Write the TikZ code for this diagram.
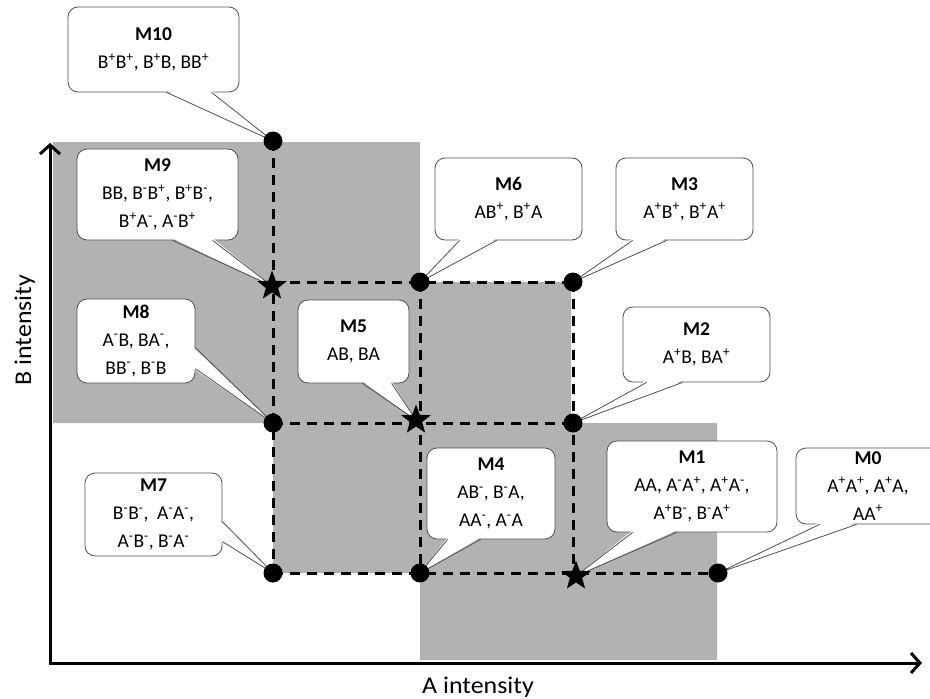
\documentclass[tikz,border=0pt]{standalone}
\usepackage{fontspec}
\setmainfont{Carlito}
\newfontfamily\boxfont{Carlito}
\newfontfamily\labfont{Carlito}[FakeStretch=1.08]
\usetikzlibrary{arrows.meta,shapes.geometric,calc}
\definecolor{regiongray}{RGB}{178,178,178}
\definecolor{outlinegray}{RGB}{80,80,80}
\newcommand{\pls}{\textsuperscript{+}}
\newcommand{\mns}{\textsuperscript{-}}
\newcommand{\wedgebottom}[4]{%
  \fill[white] ($(#1.south west)+(#2,-2)$) -- (#4) -- ($(#1.south west)+(#3,-2)$) -- cycle;
  \draw[callline] ($(#1.south west)+(#2,0)$) -- (#4) -- ($(#1.south west)+(#3,0)$);}
\newcommand{\wedgeright}[4]{%
  \fill[white] ($(#1.north east)+(-2,#2)$) -- (#4) -- ($(#1.north east)+(-2,#3)$) -- cycle;
  \draw[callline] ($(#1.north east)+(0,#2)$) -- (#4) -- ($(#1.north east)+(0,#3)$);}
\begin{document}
\begin{tikzpicture}[x=1pt,y=-1pt,
  region/.style={fill=regiongray},
  gridline/.style={line width=3pt,dash pattern=on 10pt off 7pt},
  axisline/.style={line width=3pt,line join=miter},
  callbox/.style={draw=outlinegray,line width=0.8pt,fill=white,rounded corners=10pt,inner sep=0pt,align=center,font=\boxfont\fontsize{19.5}{28}\selectfont},
  callline/.style={draw=outlinegray,line width=0.8pt},
  dotnode/.style={circle,fill=black,minimum size=19pt,inner sep=0pt},
  starnode/.style={star,star points=5,star point ratio=2.4,fill=black,minimum size=31pt,inner sep=0pt},
  axlabel/.style={font=\labfont\fontsize{24}{28}\selectfont,inner sep=0pt}]
\useasboundingbox (0,0) rectangle (930,699);
% grid coordinates
\coordinate (p10) at (273,141);
\coordinate (p9) at (273,282);
\coordinate (p8) at (273,423);
\coordinate (p7) at (273,573);
\coordinate (p6) at (420,282);
\coordinate (p5) at (420,423);
\coordinate (p4) at (420,573);
\coordinate (p3) at (573,282);
\coordinate (p2) at (573,423);
\coordinate (p1) at (573,573);
\coordinate (p0) at (718,573);
\coordinate (s9) at (272,286);
\coordinate (s5) at (416,420);
\coordinate (s1) at (576,576);
% gray regions
\fill[region] (53,142) -- (420,142) -- (420,282) -- (571,282) -- (571,423) -- (717,423)
  -- (717,660) -- (420,660) -- (420,573) -- (273,573) -- (273,423) -- (53,423) -- cycle;
% axes
\coordinate (origin) at (50,663);
\coordinate (yend) at (50,143);
\coordinate (xend) at (922,663);
\draw[axisline,{Straight Barb[length=9pt,width=20pt]}-{Straight Barb[length=9pt,width=20pt]}] (yend) -- (origin) -- (xend);
\node[axlabel,anchor=base] (xlab) at (478,693) {A intensity};
\node[axlabel,anchor=base,rotate=90] (ylab) at (31,330) {B intensity};
% dashed grid
\draw[gridline] (p10) -- (p7);
\draw[gridline] (p6) -- (p4);
\draw[gridline] (p3) -- (p1);
\draw[gridline] (p9) -- (p3);
\draw[gridline] (p8) -- (p2);
\draw[gridline] (p7) -- (p0);
% callouts
\node[callbox,minimum width=171pt,minimum height=85pt] (m10) at (153.5,49.5) {\textbf{M10}\\B\pls B\pls, B\pls B, BB\pls};
\wedgebottom{m10}{99}{144}{p10}
\node[callbox,minimum width=161pt,minimum height=91pt] (m9) at (157.5,194.5) {\textbf{M9}\\BB, B\mns B\pls, B\pls B\mns,\\B\pls A\mns, A\mns B\pls};
\wedgebottom{m9}{96}{136}{s9}
\node[callbox,minimum width=118pt,minimum height=84pt] (m8) at (136,341) {\textbf{M8}\\A\mns B, BA\mns,\\BB\mns, B\mns B};
\wedgeright{m8}{49}{70}{p8}
\node[callbox,minimum width=111pt,minimum height=83pt] (m5) at (353.5,341.5) {\textbf{M5}\\AB, BA};
\wedgebottom{m5}{65}{94}{s5}
\node[callbox,minimum width=147pt,minimum height=82pt] (m6) at (508.5,199) {\textbf{M6}\\AB\pls, B\pls A};
\wedgebottom{m6}{25}{62}{p6}
\node[callbox,minimum width=137pt,minimum height=82pt] (m3) at (684.5,199) {\textbf{M3}\\A\pls B\pls, B\pls A\pls};
\wedgebottom{m3}{17}{51}{p3}
\node[callbox,minimum width=147pt,minimum height=75pt] (m2) at (696.5,344.5) {\textbf{M2}\\A\pls B, BA\pls};
\wedgebottom{m2}{24}{60}{p2}
\node[callbox,minimum width=137pt,minimum height=83pt] (m7) at (153.5,514.5) {\textbf{M7}\\B\mns B\mns,\ \ A\mns A\mns,\\A\mns B\mns, B\mns A\mns};
\wedgeright{m7}{49}{69}{p7}
\node[callbox,minimum width=128pt,minimum height=91pt] (m4) at (491,493.5) {\textbf{M4}\\AB\mns, B\mns A,\\AA\mns, A\mns A};
\wedgebottom{m4}{21}{54}{p4}
\node[callbox,minimum width=170pt,minimum height=91pt] (m1) at (692,486.5) {\textbf{M1}\\AA, A\mns A\pls, A\pls A\mns,\\A\pls B\mns, B\mns A\pls};
\wedgebottom{m1}{26}{70}{s1}
\node[callbox,minimum width=144pt,minimum height=76pt] (m0) at (868,486) {\textbf{M0}\\A\pls A\pls, A\pls A,\\AA\pls};
\wedgebottom{m0}{24}{61}{p0}
% points
\node[dotnode] (d10) at (p10) {};
\node[starnode] (st9) at (s9) {};
\node[dotnode] (d8) at (p8) {};
\node[dotnode] (d7) at (p7) {};
\node[dotnode] (d6) at (p6) {};
\node[starnode] (st5) at (s5) {};
\node[dotnode] (d4) at (p4) {};
\node[dotnode] (d3) at (p3) {};
\node[dotnode] (d2) at (p2) {};
\node[starnode] (st1) at (s1) {};
\node[dotnode] (d0) at (p0) {};
\end{tikzpicture}
\end{document}
